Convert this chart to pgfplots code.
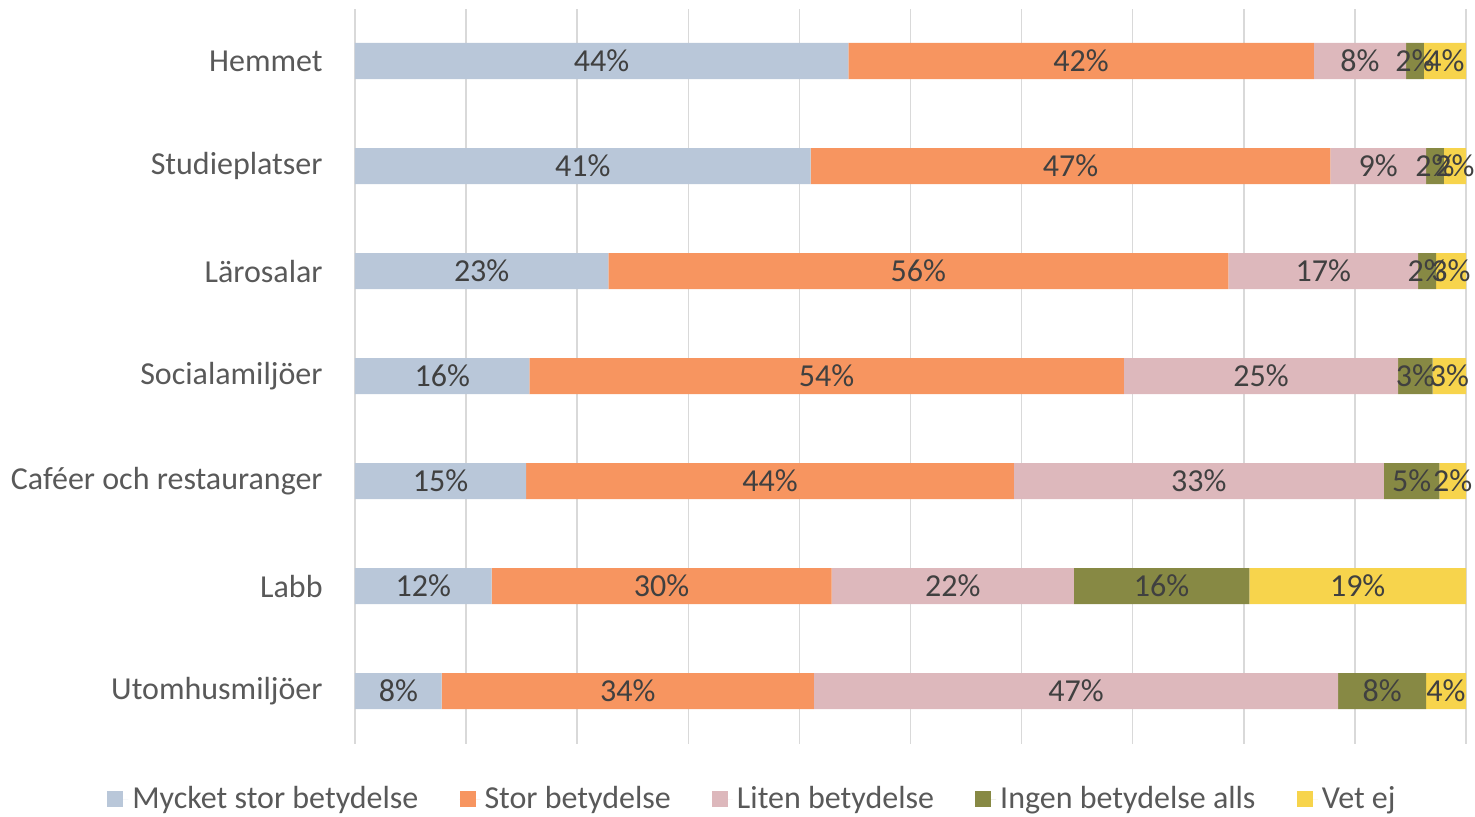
\documentclass[border=0pt]{standalone}
\usepackage{pgfplots}
\usepackage{pgfplotstable}
\usepackage{fontspec}
\setmainfont{Carlito}
\pgfplotsset{compat=1.18}
\definecolor{cA}{HTML}{B9C7D9}
\definecolor{cB}{HTML}{F79560}
\definecolor{cC}{HTML}{DDB8BC}
\definecolor{cD}{HTML}{878944}
\definecolor{cE}{HTML}{F7D44C}
\definecolor{gridc}{HTML}{D9D9D9}
\definecolor{labc}{HTML}{595959}
\definecolor{datc}{HTML}{404040}
\pgfplotstableread{
y a b c d e
6 44.4 41.9 8.3 1.6 3.8
5 41.0 46.8 8.6 1.6 2.0
4 22.8 55.8 17.1 1.6 2.7
3 15.7 53.5 24.7 3.1 3.0
2 15.4 43.9 33.3 5.0 2.4
1 12.3 30.6 21.8 15.8 19.5
0 7.8 33.5 47.2 7.9 3.6
}\bars
\pgfplotstableread{
x y lab
22.2 6 44
65.35 6 42
90.45 6 8
95.4 6 2
98.1 6 4
20.5 5 41
64.4 5 47
92.1 5 9
97.2 5 2
99.0 5 2
11.4 4 23
50.7 4 56
87.15 4 17
96.5 4 2
98.65 4 3
7.85 3 16
42.45 3 54
81.55 3 25
95.45 3 3
98.5 3 3
7.7 2 15
37.35 2 44
75.95 2 33
95.1 2 5
98.8 2 2
6.15 1 12
27.6 1 30
53.8 1 22
72.6 1 16
90.25 1 19
3.9 0 8
24.55 0 34
64.9 0 47
92.45 0 8
98.2 0 4
}\labs
\newcommand{\fs}{\fontsize{16}{19}\selectfont}
\begin{document}
\begin{tikzpicture}
\pgfplotsset{base/.style={
  scale only axis, width=555.5pt, height=367.5pt,
  at={(0,0)}, anchor=south west,
  xmin=0, xmax=100, ymin=-0.5, ymax=6.5,
  axis line style={draw=none}, major tick length=0pt,
}}
\begin{axis}[base,
  xbar stacked, bar width=0.343,
  xtick={0,10,...,100}, xticklabels={},
  xmajorgrids, grid style={gridc, line width=0.75pt},
  ytick={0,...,6},
  yticklabels={Utomhusmiljöer,Labb,Caféer och restauranger,Socialamiljöer,Lärosalar,Studieplatser,Hemmet},
  yticklabel style={font=\fs, text=labc, inner sep=0pt, anchor=east, xshift=-16pt},
  legend columns=5,
  legend style={draw=none, fill=none, font=\fs, text=labc,
    at={(axis description cs:0.5,0)}, anchor=center, xshift=-78.5pt, yshift=-27.75pt,
    /tikz/every even column/.append style={column sep=18.6pt},
    inner sep=0pt},
  legend cell align=left,
  legend image code/.code={\fill[#1] (0pt,-4pt) rectangle (8pt,4pt); \path (0pt,0pt) -- (10.5pt,0pt);},
]
\addplot[fill=cA, draw=none] table[x=a,y=y]{\bars};
\addplot[fill=cB, draw=none] table[x=b,y=y]{\bars};
\addplot[fill=cC, draw=none] table[x=c,y=y]{\bars};
\addplot[fill=cD, draw=none] table[x=d,y=y]{\bars};
\addplot[fill=cE, draw=none] table[x=e,y=y]{\bars};
\legend{Mycket stor betydelse,Stor betydelse,Liten betydelse,Ingen betydelse alls,Vet ej}
\end{axis}
\begin{axis}[base, xtick=\empty, ytick=\empty]
\addplot[draw=none, mark=none, only marks, point meta=explicit symbolic,
  nodes near coords={\pgfplotspointmeta\%},
  nodes near coords align=center,
  every node near coord/.append style={anchor=center, font=\fs, text=datc, inner sep=0pt}]
  table[x=x,y=y,meta=lab]{\labs};
\end{axis}
\pgfresetboundingbox
\path[use as bounding box] (-177.5pt,-36.25pt) rectangle (560pt,371.75pt);
\end{tikzpicture}
\end{document}
